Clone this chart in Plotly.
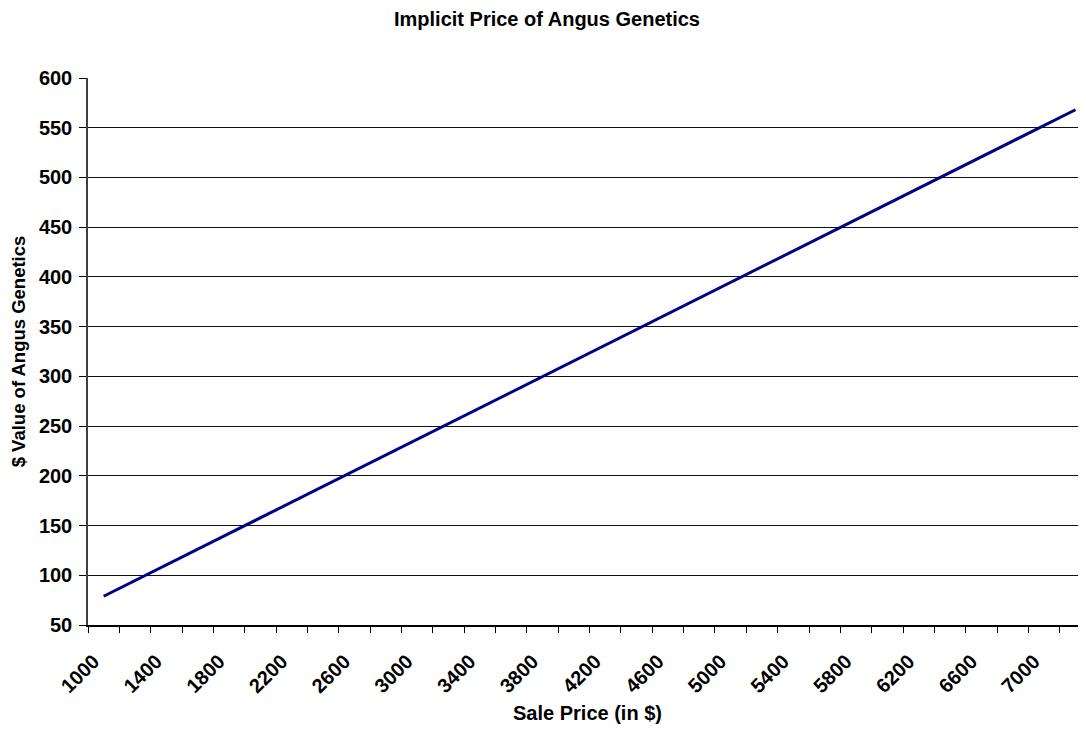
import plotly.graph_objects as go

# Sale price categories (every $200) and the implied $ value of Angus genetics
sale_price = [1000, 1200, 1400, 1600, 1800, 2000, 2200, 2400, 2600, 2800,
              3000, 3200, 3400, 3600, 3800, 4000, 4200, 4400, 4600, 4800,
              5000, 5200, 5400, 5600, 5800, 6000, 6200, 6400, 6600, 6800,
              7000, 7200]
angus_value = [78.9, 94.7, 110.5, 126.2, 142.0, 157.8, 173.6, 189.4, 205.1, 220.9,
               236.7, 252.5, 268.3, 284.0, 299.8, 315.6, 331.4, 347.2, 362.9, 378.7,
               394.5, 410.3, 426.1, 441.8, 457.6, 473.4, 489.2, 505.0, 520.7, 536.5,
               552.3, 568.1]

# only every other category gets a label
x_tick_labels = ["1000", "1400", "1800", "2200", "2600", "3000", "3400", "3800",
                 "4200", "4600", "5000", "5400", "5800", "6200", "6600", "7000"]
y_ticks = [50, 100, 150, 200, 250, 300, 350, 400, 450, 500, 550, 600]

font_family = "Liberation Sans, Arial, sans-serif"

fig = go.Figure()
fig.add_trace(go.Scatter(
    x=sale_price,
    y=angus_value,
    mode="lines",
    line=dict(color="#000080", width=3),
    showlegend=False,
))

# tick marks sit on the category boundaries, labels on the centers
boundaries = [p - 100 for p in sale_price]

# the page body adds an 8px margin, so the figure is 8px smaller each way
fig.update_layout(
    width=1078,
    height=724,
    paper_bgcolor="white",
    plot_bgcolor="white",
    margin=dict(l=80, r=0, t=70, b=107, autoexpand=False),
    font=dict(family=font_family, color="black"),
    title=dict(
        text="<b>Implicit Price of Angus Genetics</b>",
        x=0.5,
        xref="container",
        xanchor="center",
        y=0.985,
        yref="container",
        yanchor="middle",
        automargin=False,
        font=dict(size=20, family=font_family, color="black"),
    ),
    xaxis=dict(
        range=[900, 7267],
        tickmode="array",
        tickvals=[int(t) for t in x_tick_labels],
        ticktext=["<b>%s</b>" % t for t in x_tick_labels],
        tickangle=-45,
        ticks="",
        ticklabelstandoff=15,
        ticklabelshift=-10,
        tickfont=dict(size=20),
        showgrid=False,
        zeroline=False,
        showline=True,
        linecolor="black",
        linewidth=1.5,
        automargin=False,
        minor=dict(tickvals=boundaries, ticks="outside", ticklen=6,
                   tickcolor="black", tickwidth=1, showgrid=False),
    ),
    yaxis=dict(
        range=[50, 600],
        tickmode="array",
        tickvals=y_ticks,
        ticktext=["<b>%d</b>" % v for v in y_ticks],
        ticks="outside",
        ticklen=7,
        tickcolor="black",
        tickfont=dict(size=20),
        ticklabelstandoff=3,
        showgrid=True,
        gridcolor="#111111",
        gridwidth=1,
        zeroline=False,
        showline=True,
        linecolor="#404040",
        linewidth=1.5,
        automargin=False,
        title=dict(text="<b>$ Value of Angus Genetics</b>", font=dict(size=18.5), standoff=8),
    ),
)

# x-axis title placed as an annotation so it sits where the original has it
fig.add_annotation(
    text="<b>Sale Price (in $)</b>",
    xref="paper", yref="paper",
    x=0.5, y=-(704.7 - 617) / 547,
    xanchor="center", yanchor="middle",
    showarrow=False,
    font=dict(size=20),
)

fig.write_html("out.html")
